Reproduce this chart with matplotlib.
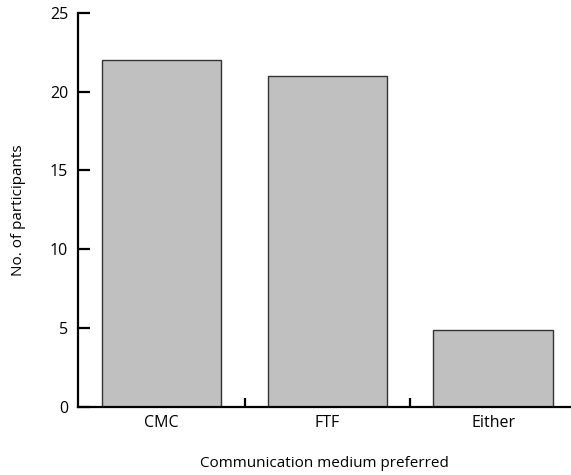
import matplotlib.pyplot as plt

# Data
categories = ['CMC', 'FTF', 'Either']
counts = [22, 21, 4.9]

plt.rcParams['font.family'] = ['Open Sans', 'DejaVu Sans']

fig = plt.figure(figsize=(5.71, 4.75), dpi=100)
ax = fig.add_axes([78 / 571, 0.1438, 493 / 571, 0.829])

x = list(range(len(categories)))
ax.bar(x, counts, width=0.72, color='#c0c0c0', edgecolor='#333333', linewidth=1.0, zorder=2)

ax.set_xlim(-0.505, 2.47)
ax.set_ylim(0, 25)

for side in ['top', 'right']:
    ax.spines[side].set_visible(False)
for side in ['left', 'bottom']:
    ax.spines[side].set_linewidth(1.6)
    ax.spines[side].set_color('black')

ax.set_yticks([0, 5, 10, 15, 20, 25])
ax.tick_params(axis='y', direction='in', length=8.5, width=1.6, labelsize=11.5, pad=7)

# category labels centred under bars, tick marks between bars
ax.set_xticks(x)
ax.set_xticklabels(categories)
ax.tick_params(axis='x', which='major', length=0, labelsize=11.5, pad=6)
ax.set_xticks([0.5, 1.5], minor=True)
ax.tick_params(axis='x', which='minor', direction='in', length=6.5, width=1.6)

ax.set_xlabel('Communication medium preferred', fontsize=11, labelpad=18)
ax.set_ylabel('No. of participants', fontsize=11, labelpad=17)

plt.savefig('out.png', dpi=100)
